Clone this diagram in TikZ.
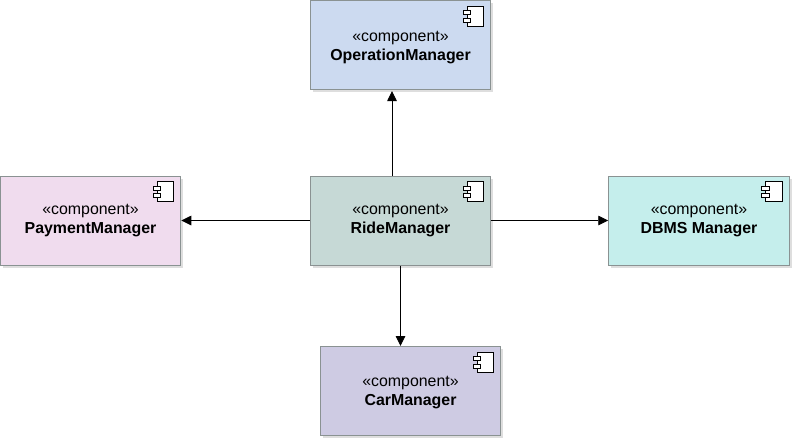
\documentclass[tikz,border=0pt]{standalone}
\usepackage{fontspec}
\setmainfont{Liberation Sans}
\usepackage{xcolor}
\usetikzlibrary{arrows.meta, positioning, shadows}
\definecolor{opblue}{HTML}{CCDAF0}
\definecolor{ridegreen}{HTML}{C6D9D6}
\definecolor{paypink}{HTML}{F0DCEE}
\definecolor{dbcyan}{HTML}{C5EEEC}
\definecolor{carviolet}{HTML}{CECBE3}
\definecolor{boxline}{HTML}{8A9292}
\tikzstyle{component} = [rectangle, minimum width=180.5pt, minimum height=89pt, inner sep=0pt, align=center, draw=boxline, line width=1pt, font=\fontsize{15.9}{19}\selectfont, drop shadow={shadow xshift=2.5pt, shadow yshift=-2.5pt, fill=black!13, opacity=1}]
\tikzstyle{arrow} = [line width=0.9pt, -{Stealth[length=10pt, width=9.5pt, inset=0pt]}]
\tikzstyle{icon} = [draw=black, line width=0.8pt, fill=white]
\newcommand{\complabel}[2][0pt]{\rule{0pt}{#1}«component»\\\textbf{#2}}
\newcommand{\compicon}[1]{%
    \draw[icon] ([shift={(-24pt,-6pt)}]#1.north east) rectangle ([shift={(-7.5pt,-26pt)}]#1.north east);
    \draw[icon] ([shift={(-28pt,-10.5pt)}]#1.north east) rectangle ([shift={(-20.5pt,-14.5pt)}]#1.north east);
    \draw[icon] ([shift={(-28pt,-18pt)}]#1.north east) rectangle ([shift={(-20.5pt,-22pt)}]#1.north east);
}

\begin{document}
\begin{tikzpicture}[x=1pt, y=1pt, node distance=85pt]
    \useasboundingbox (0,0) rectangle (792,-440);

    % Nodes
    \node[component, fill=ridegreen] (ride) at (400.5,-220.5) {\complabel{RideManager}};
    \node[component, fill=opblue, above=85.5pt of ride] (operation) {\complabel[15pt]{OperationManager}};
    \node[component, fill=paypink, left=128.5pt of ride] (payment) {\complabel{PaymentManager}};
    \node[component, fill=dbcyan, right=117pt of ride] (dbms) {\complabel{DBMS Manager}};
    \node[component, fill=carviolet, below=80.5pt of ride, xshift=10pt] (car) {\complabel[13.5pt]{CarManager}};

    % Icons
    \foreach \n in {ride, operation, payment, dbms, car} {
        \compicon{\n}
    }

    % Arrows
    \draw[arrow] ([xshift=-8.5pt]ride.north) -- ([xshift=-8.5pt,yshift=-1pt]ride.north |- operation.south);
    \draw[arrow] (ride.west) -- (payment.east);
    \draw[arrow] (ride.east) -- (dbms.west);
    \draw[arrow] (ride.south) -- (ride.south |- car.north);

\end{tikzpicture}
\end{document}
